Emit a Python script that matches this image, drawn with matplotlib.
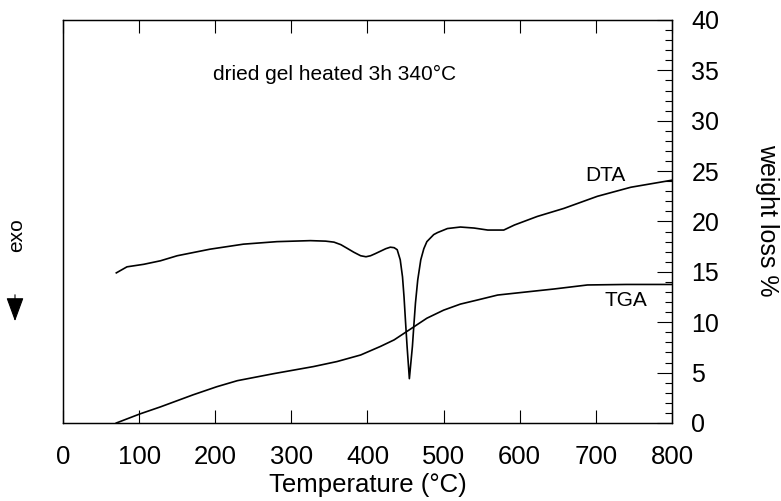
import matplotlib
matplotlib.use('Agg')
import matplotlib.pyplot as plt
from matplotlib.ticker import MultipleLocator

# ---- data ----
tga_temp = [70, 101, 128, 171, 202, 229, 277, 329, 360, 391, 417, 435, 454,
            478, 500, 522, 544, 571, 614, 645, 689, 740, 800]
tga_loss = [0.0, 0.9, 1.6, 2.8, 3.6, 4.2, 4.9, 5.6, 6.1, 6.75, 7.6, 8.25, 9.2,
            10.4, 11.2, 11.8, 12.2, 12.7, 13.05, 13.3, 13.7, 13.75, 13.75]

dta_temp = [70, 84, 106, 128, 150, 193, 237, 281, 325, 345, 356, 365, 373, 382,
            391, 398, 404, 410, 417, 424, 430, 435, 439, 443, 446, 448, 450, 452,
            455, 457, 459, 461, 463, 466, 470, 474, 478, 487, 492, 505,
            522, 540, 558, 579, 593, 623, 658, 702, 746, 800]
dta_signal = [14.9, 15.5, 15.75, 16.1, 16.6, 17.25, 17.75, 18.0, 18.1, 18.05,
              17.95, 17.7, 17.35, 16.95, 16.6, 16.5, 16.6, 16.8, 17.05, 17.3,
              17.45, 17.4, 17.2, 16.2, 14.5, 12.5, 10.0, 7.6, 4.4, 6.0, 7.6,
              9.8, 11.9, 14.2, 16.2, 17.3, 18.0, 18.7, 18.9, 19.3,
              19.45, 19.35, 19.15, 19.15, 19.65, 20.5, 21.3, 22.5, 23.4, 24.1]

x_ticks = [0, 100, 200, 300, 400, 500, 600, 700, 800]
y_ticks = [0, 5, 10, 15, 20, 25, 30, 35, 40]

plt.rcParams['font.family'] = ['Liberation Sans', 'DejaVu Sans']

fig = plt.figure(figsize=(7.81, 5.01), dpi=100)
ax = fig.add_axes([0.0807, 0.1557, 0.7797, 0.8044])
ax2 = ax.twinx()

ax.plot(dta_temp, dta_signal, color='black', lw=1.2)
ax.set_xlim(0, 800)
ax.set_ylim(0, 40)
ax.set_xticks(x_ticks)
ax.set_xticklabels([str(t) for t in x_ticks])
ax.tick_params(axis='x', direction='in', top=True, bottom=True,
               length=9.5, width=0.8, labelsize=18.5, pad=15.5)
ax.tick_params(axis='y', which='both', left=False, right=False,
               labelleft=False, labelright=False)

ax2.plot(tga_temp, tga_loss, color='black', lw=1.2)
ax2.set_ylim(0, 40)
ax2.set_yticks(y_ticks)
ax2.set_yticklabels([str(t) for t in y_ticks])
ax2.yaxis.set_minor_locator(MultipleLocator(1))
ax2.tick_params(axis='y', which='major', direction='in', length=11, width=0.8,
                labelsize=18, pad=14, left=False)
ax2.tick_params(axis='y', which='minor', direction='in', length=5, width=0.8,
                left=False)
for a in (ax, ax2):
    for s in a.spines.values():
        s.set_linewidth(0.9)

ax.set_xlabel('Temperature (°C)', fontsize=18.5, labelpad=3)

fig.text(335 / 781, 1 - 74 / 501, 'dried gel heated 3h 340°C', fontsize=15,
         ha='center', va='center')
ax.text(712, 24.6, 'DTA', fontsize=15, ha='center', va='center')
ax.text(739, 12.2, 'TGA', fontsize=15, ha='center', va='center')

fig.text(767 / 781, 1 - 220 / 501, 'weight loss %', fontsize=18, rotation=270,
         ha='center', va='center')
fig.text(17 / 781, 1 - 235 / 501, 'exo', fontsize=15, rotation=90,
         ha='center', va='center')
fig.patches.append(matplotlib.patches.FancyArrowPatch(
    (15 / 781, 1 - 292 / 501), (15 / 781, 1 - 324 / 501),
    transform=fig.transFigure, arrowstyle='-|>,head_length=0.6,head_width=0.22',
    mutation_scale=25, color='black', lw=0.8))

fig.savefig('out.png', dpi=100)
